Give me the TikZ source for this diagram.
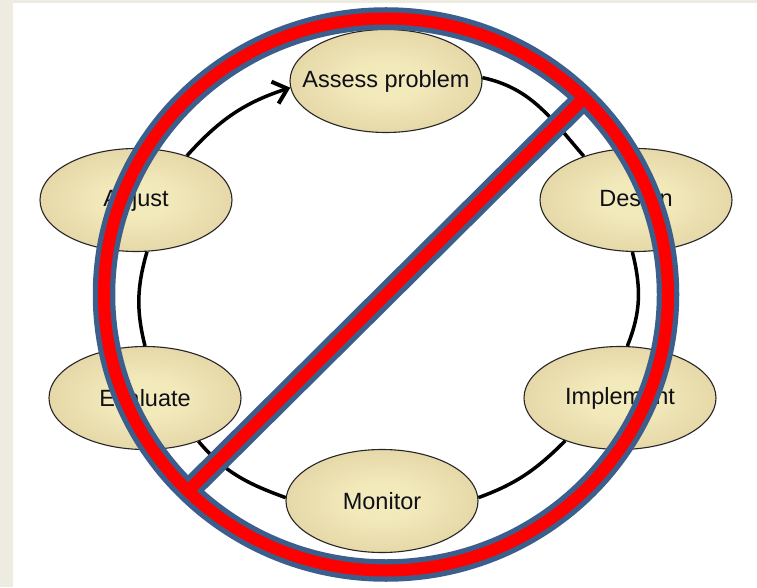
\documentclass[tikz,border=0pt]{standalone}
\usepackage{fontspec}
\setmainfont{Liberation Sans}
\usetikzlibrary{arrows.meta,shapes.geometric}
\definecolor{bgbeige}{RGB}{238,236,225}
\definecolor{ellin}{RGB}{243,234,188}
\definecolor{ellout}{RGB}{210,189,140}
\definecolor{ringblue}{RGB}{59,94,140}
\definecolor{ringred}{RGB}{255,0,0}
\definecolor{txt}{RGB}{15,15,22}
\pgfdeclareradialshading{ellshade}{\pgfpoint{0bp}{0bp}}{color(0bp)=(ellin); color(8bp)=(ellin); color(50bp)=(ellout)}
\begin{document}
\begin{tikzpicture}[x=1pt,y=1pt,
  stage/.style={ellipse, draw=black!85, line width=1.1pt, shading=ellshade,
    minimum width=192pt, minimum height=103pt, inner sep=0pt,
    font=\fontsize{23.5}{28}\selectfont, text=txt},
  link/.style={line width=3.5pt, black},
  ringouter/.style={ringblue, line width=22.5pt},
  ringinner/.style={ringred, line width=12pt}]
\useasboundingbox (0,0) rectangle (757,587);
\fill[bgbeige] (0,0) rectangle (757,587);
\fill[white] (13,0) rectangle (757,584);
% stages
\node[stage] (ass) at (386,506) {\makebox[0pt]{Assess problem}};
\node[stage] (des) at (636,387) {\makebox[0pt]{Design}};
\node[stage] (imp) at (620,189) {\makebox[0pt]{Implement}};
\node[stage] (mon) at (382,86) {\makebox[0pt]{Monitor}};
\node[stage] (eva) at (145,189) {\makebox[0pt]{Evaluate}};
\node[stage] (adj) at (136,387) {\makebox[0pt]{Adjust}};
% cycle connectors
\draw[link, -{Straight Barb[length=13pt,width=23pt,line width=4pt]}] (adj.41) to[out=48,in=198] (ass.184);
\draw[link] (ass.2) to[out=-12,in=131] (des.140);
\draw[link] (des.266) to[out=-76,in=68] (imp.82);
\draw[link] (imp.218) to[out=225,in=20] (mon.2);
\draw[link] (mon.178) to[out=160,in=-50] (eva.-39);
\draw[link] (eva.90) to[out=104,in=254] (adj.-78);
% prohibition sign
\coordinate (c) at (386,292.5);
\coordinate (barA) at (188,96);
\coordinate (barB) at (584,489);
\draw[ringouter] (c) ellipse [x radius=282, y radius=276];
\draw[ringouter] (barA) -- (barB);
\draw[ringinner] (c) ellipse [x radius=282, y radius=276];
\draw[ringinner] (barA) -- (barB);
\end{tikzpicture}
\end{document}
